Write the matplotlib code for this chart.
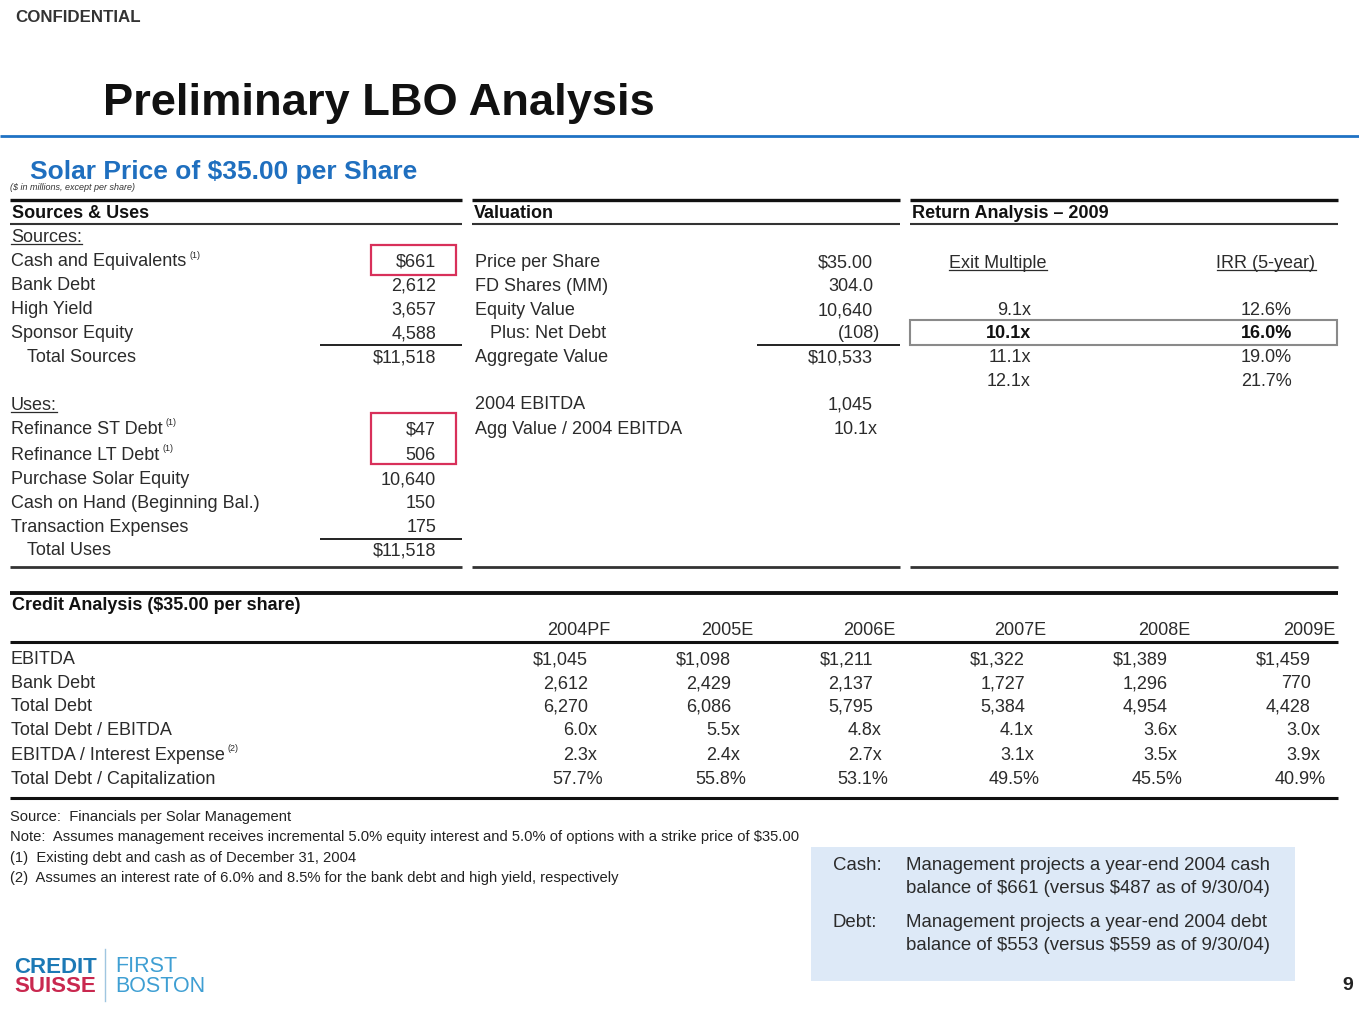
import matplotlib
matplotlib.use("Agg")
import matplotlib.pyplot as plt
from matplotlib.patches import Rectangle

plt.rcParams['font.family'] = ['Liberation Sans', 'DejaVu Sans']

# ---------------- data ----------------
source_labels = ["Cash and Equivalents", "Bank Debt", "High Yield", "Sponsor Equity"]
source_values = ["$661", "2,612", "3,657", "4,588"]
total_sources = "$11,518"
use_labels = ["Refinance ST Debt", "Refinance LT Debt", "Purchase Solar Equity",
              "Cash on Hand (Beginning Bal.)", "Transaction Expenses"]
use_values = ["$47", "506", "10,640", "150", "175"]
total_uses = "$11,518"

valuation_labels = ["Price per Share", "FD Shares (MM)", "Equity Value", "Plus: Net Debt",
                    "Aggregate Value"]
valuation_values = ["$35.00", "304.0", "10,640", "(108)", "$10,533"]
ebitda_labels = ["2004 EBITDA", "Agg Value / 2004 EBITDA"]
ebitda_values = ["1,045", "10.1x"]

exit_multiples = ["9.1x", "10.1x", "11.1x", "12.1x"]
irr_values = ["12.6%", "16.0%", "19.0%", "21.7%"]

credit_years = ["2004PF", "2005E", "2006E", "2007E", "2008E", "2009E"]
credit_rows = ["EBITDA", "Bank Debt", "Total Debt", "Total Debt / EBITDA",
               "EBITDA / Interest Expense", "Total Debt / Capitalization"]
ebitda_series = ["$1,045", "$1,098", "$1,211", "$1,322", "$1,389", "$1,459"]
bank_debt_series = ["2,612", "2,429", "2,137", "1,727", "1,296", "770"]
total_debt_series = ["6,270", "6,086", "5,795", "5,384", "4,954", "4,428"]
debt_ebitda_series = ["6.0x", "5.5x", "4.8x", "4.1x", "3.6x", "3.0x"]
coverage_series = ["2.3x", "2.4x", "2.7x", "3.1x", "3.5x", "3.9x"]
cap_series = ["57.7%", "55.8%", "53.1%", "49.5%", "45.5%", "40.9%"]

footnotes = [
    "Source:  Financials per Solar Management",
    "Note:  Assumes management receives incremental 5.0% equity interest and 5.0% of options with a strike price of $35.00",
    "(1)  Existing debt and cash as of December 31, 2004",
    "(2)  Assumes an interest rate of 6.0% and 8.5% for the bank debt and high yield, respectively",
]
box_keys = ["Cash:", "Debt:"]
box_texts = [["Management projects a year-end 2004 cash", "balance of $661 (versus $487 as of 9/30/04)"],
             ["Management projects a year-end 2004 debt", "balance of $553 (versus $559 as of 9/30/04)"]]

# ---------------- figure ----------------
W, H = 1359, 1020
fig = plt.figure(figsize=(W / 100, H / 100), dpi=100)
ax = fig.add_axes([0, 0, 1, 1])
ax.set_xlim(0, W)
ax.set_ylim(H, 0)
ax.axis('off')
renderer = fig.canvas.get_renderer()

TXT = '#2b2b2b'
FS = 13


def txt(x, y, s, ha='left', size=FS, weight='normal', color=TXT, **kw):
    return ax.text(x, y + 1, s, ha=ha, va='center', fontsize=size, fontweight=weight,
                   color=color, parse_math=False, **kw)


def extent(t):
    bb = t.get_window_extent(renderer=renderer)
    inv = ax.transData.inverted()
    (x0, y0), (x1, y1) = inv.transform([[bb.x0, bb.y0], [bb.x1, bb.y1]])
    return x0, x1


def underline(t, dy=7):
    x0, x1 = extent(t)
    y = t.get_position()[1] + dy
    ax.plot([x0, x1], [y, y], color=TXT, lw=0.9)


def sup(t, s):
    x0, x1 = extent(t)
    ax.text(x1 + 3, t.get_position()[1] - 7, s, ha='left', va='center', fontsize=6.5,
            color=TXT, parse_math=False)


def hline(x0, x1, y, lw=1.5, color='#111111'):
    ax.plot([x0, x1], [y, y], color=color, lw=lw, solid_capstyle='butt')


# header
txt(15, 17, "CONFIDENTIAL", size=12.2, weight='bold', color='#333333')
txt(103, 102, "Preliminary LBO Analysis", size=32.6, weight='bold', color='#111111')
hline(0, W, 137, lw=2.0, color='#1f72c4')
txt(30, 171, "Solar Price of $35.00 per Share", size=19, weight='bold', color='#1f6fbf')
txt(10, 186, "($ in millions, except per share)", size=6.5, style='italic', color='#333333')

# section frames
sections = [(10, 462, "Sources & Uses"), (472, 900, "Valuation"), (910, 1338, "Return Analysis \u2013 2009")]
for x0, x1, title in sections:
    hline(x0, x1, 201, lw=2.4)
    txt(x0 + 2, 212, title, weight='bold', color='#111111')
    hline(x0, x1, 225, lw=1.5, color='#333333')
    hline(x0, x1, 568, lw=2.0, color='#333333')

# Sources & Uses
t = txt(11, 237, "Sources:")
underline(t)
src_y = [261, 285, 309, 333]
for i, (lab, val) in enumerate(zip(source_labels, source_values)):
    t = txt(11, src_y[i], lab)
    if i == 0:
        sup(t, "(1)")
    txt(436, src_y[i], val, ha='right')
hline(320, 462, 346, lw=1.3)
txt(27, 357, "Total Sources")
txt(436, 357, total_sources, ha='right')

t = txt(11, 405, "Uses:")
underline(t)
use_y = [429, 455, 479, 503, 527]
for i, (lab, val) in enumerate(zip(use_labels, use_values)):
    t = txt(11, use_y[i], lab)
    if i < 2:
        sup(t, "(1)")
    txt(436, use_y[i], val, ha='right')
hline(320, 462, 540, lw=1.3)
txt(27, 550, "Total Uses")
txt(436, 550, total_uses, ha='right')

ax.add_patch(Rectangle((371, 246), 85, 30, fill=False, ec='#d8305a', lw=1.6))
ax.add_patch(Rectangle((371, 414), 85, 51, fill=False, ec='#d8305a', lw=1.6))

# Valuation
val_y = [262, 286, 310, 333, 357]
for i, (lab, val) in enumerate(zip(valuation_labels, valuation_values)):
    xl = 490 if lab.startswith("Plus") else 475
    txt(xl, val_y[i], lab)
    xr = 880 if val.startswith("(") else 873
    txt(xr, val_y[i], val, ha='right')
hline(757, 900, 346, lw=1.3)
eb_y = [404, 429]
for i, (lab, val) in enumerate(zip(ebitda_labels, ebitda_values)):
    txt(475, eb_y[i], lab)
    txt(873 if i == 0 else 878, eb_y[i], val, ha='right')

# Return analysis
t = txt(998, 263, "Exit Multiple", ha='center')
underline(t)
t = txt(1266, 263, "IRR (5-year)", ha='center')
underline(t)
ret_y = [310, 333, 357, 381]
for i, (em, irr) in enumerate(zip(exit_multiples, irr_values)):
    w = 'bold' if i == 1 else 'normal'
    c = '#111111' if i == 1 else TXT
    txt(1031, ret_y[i], em, ha='right', weight=w, color=c)
    txt(1292, ret_y[i], irr, ha='right', weight=w, color=c)
ax.add_patch(Rectangle((910, 321), 427, 25, fill=False, ec='#8a8a8a', lw=1.5))

# Credit analysis
hline(10, 1338, 594, lw=2.8)
txt(12, 605, "Credit Analysis ($35.00 per share)", weight='bold', color='#111111')
hdr_right = [610, 753, 896, 1046, 1190, 1336]
for yr, xr in zip(credit_years, hdr_right):
    txt(xr, 630, yr, ha='right')
hline(10, 1338, 643, lw=2.2)
num_right = [588, 731, 873, 1025, 1168, 1311]
row_y = [659, 683, 706, 730, 755, 779]
series = [ebitda_series, bank_debt_series, total_debt_series, debt_ebitda_series,
          coverage_series, cap_series]
offsets = [0, 0, 0, 9, 9, 15]
for r, (lab, ser) in enumerate(zip(credit_rows, series)):
    t = txt(11, row_y[r], lab)
    if r == 4:
        sup(t, "(2)")
    for c, v in enumerate(ser):
        txt(num_right[c] + offsets[r], row_y[r], v, ha='right')
hline(10, 1338, 799, lw=2.2)

# footnotes
fn_y = [816, 836, 857, 877]
for s, y in zip(footnotes, fn_y):
    txt(10, y, s, size=10.6, color='#222222')

# blue box
ax.add_patch(Rectangle((811, 848), 484, 134, fc='#dde9f7', ec='none'))
box_y = [[865, 888], [922, 945]]
for k, lines, ys in zip(box_keys, box_texts, box_y):
    txt(833, ys[0], k, size=13.4)
    for ln, y in zip(lines, ys):
        txt(906, y, ln, size=13.4)

# logo
txt(14, 967, "CREDIT", size=16, weight='bold', color='#1c79b5')
txt(14, 986, "SUISSE", size=16, weight='bold', color='#c9284f')
ax.plot([105, 105], [950, 1002], color='#9fc6e0', lw=1.0)
txt(115, 966, "FIRST", size=15.5, color='#3f9fd3')
txt(115, 986, "BOSTON", size=15.5, color='#3f9fd3')

txt(1342, 985, "9", size=14, weight='bold', color='#222222')

fig.savefig("out.png", dpi=100)
